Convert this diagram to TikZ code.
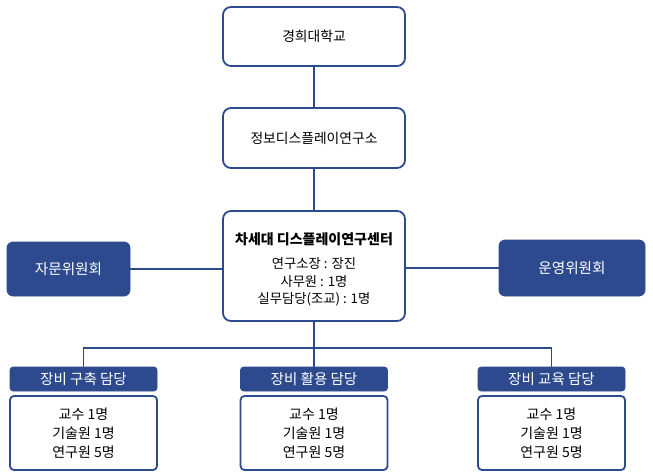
\documentclass[tikz,border=0pt]{standalone}
\usepackage{fontspec}
\setmainfont{Noto Sans CJK KR}
\definecolor{navy}{RGB}{46,74,143}
\begin{document}
\begin{tikzpicture}[x=1pt,y=-1pt,
  outline/.style={draw=navy,line width=1.8pt,rounded corners=8pt,fill=white,inner sep=0pt},
  solidbox/.style={fill=navy,draw=navy,line width=0.8pt,rounded corners=6pt,text=white,inner sep=0pt},
  headbox/.style={fill=navy,draw=navy,line width=0.6pt,rounded corners=3pt,text=white,inner sep=0pt},
  link/.style={draw=navy,line width=1.5pt}]
\useasboundingbox (0,0) rectangle (653,476);
% boxes
\node[outline,minimum width=182pt,minimum height=59pt,font=\fontsize{13.8}{15}\selectfont] (khu) at (314,36.5) {경희대학교};
\node[outline,minimum width=182pt,minimum height=60pt,font=\fontsize{13.8}{15}\selectfont] (idr) at (314,138) {정보디스플레이연구소};
\node[outline,minimum width=182pt,minimum height=110pt] (ctr) at (314,266) {};
\node[font=\fontsize{14}{16}\selectfont\bfseries] (ttl) at (314,239) {차세대 디스플레이연구센터};
\node[font=\fontsize{13.3}{17.5}\selectfont,align=center] (info) at (314,282) {연구소장 : 장진\\사무원 : 1명\\실무담당(조교) : 1명};
\node[solidbox,minimum width=123pt,minimum height=54pt,font=\fontsize{14.6}{16}\selectfont] (adv) at (68.5,269) {자문위원회};
\node[solidbox,minimum width=146pt,minimum height=56pt,font=\fontsize{14.6}{16}\selectfont] (ops) at (572,268) {운영위원회};
% headers
\node[headbox,minimum width=147pt,minimum height=24pt,font=\fontsize{14.5}{16}\selectfont] (h1) at (83.5,379) {장비 구축 담당};
\node[headbox,minimum width=147pt,minimum height=24pt,font=\fontsize{14.5}{16}\selectfont] (h2) at (314,379) {장비 활용 담당};
\node[headbox,minimum width=147pt,minimum height=24pt,font=\fontsize{14.5}{16}\selectfont] (h3) at (551.5,379) {장비 교육 담당};
% member boxes
\foreach \n/\x in {m1/83.5,m2/314,m3/551.5}{
  \node[outline,rounded corners=4pt,minimum width=147pt,minimum height=74pt,font=\fontsize{14}{19}\selectfont,align=center] (\n) at (\x,433) {교수 1명\\기술원 1명\\연구원 5명};
}
% connectors
\coordinate (bus) at (314,348);
\draw[link] (khu.south) -- (idr.north);
\draw[link] (idr.south) -- (ctr.north);
\draw[link] (adv.east) -- (adv.east -| ctr.west);
\draw[link] (ops.west) -- (ops.west -| ctr.east);
\draw[link] (ctr.south) -- (h2.north);
\draw[link] (h1.north) -- (h1.north |- bus) -- (h3.north |- bus) -- (h3.north);
\end{tikzpicture}
\end{document}
